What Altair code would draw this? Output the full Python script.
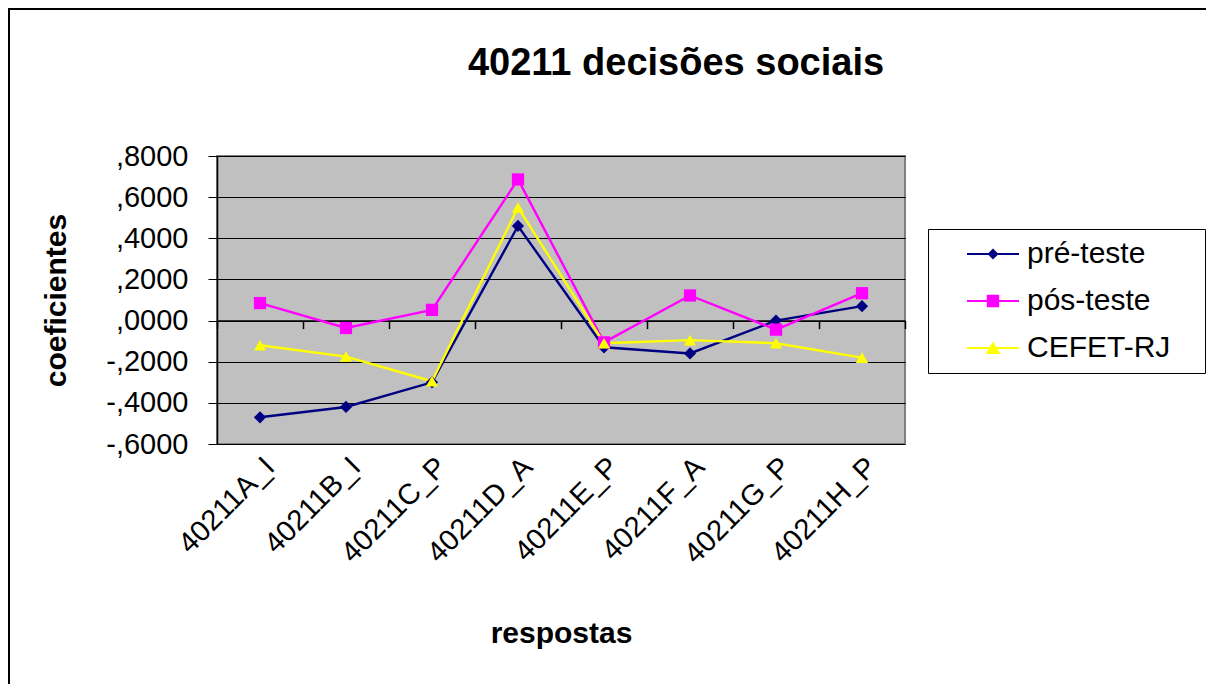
import altair as alt
import pandas as pd

categories = ["40211A_I", "40211B_I", "40211C_P", "40211D_A",
              "40211E_P", "40211F_A", "40211G_P", "40211H_P"]
series_names = ["pré-teste", "pós-teste", "CEFET-RJ"]
pre_teste = [-0.47, -0.42, -0.30, 0.46, -0.13, -0.16, 0.00, 0.07]
pos_teste = [0.085, -0.036, 0.052, 0.686, -0.106, 0.122, -0.044, 0.133]
cefet_rj = [-0.12, -0.175, -0.295, 0.55, -0.11, -0.095, -0.11, -0.18]
y_ticks = [-0.6, -0.4, -0.2, 0.0, 0.2, 0.4, 0.6, 0.8]

colors = ["#000080", "#FF00FF", "#FFFF00"]
shapes = ["diamond", "square", "triangle-up"]
legend_shapes = [
    "M-2.6,-0.1H2.6V0.1H-2.6Z M0,-0.55L0.55,0L0,0.55L-0.55,0Z",
    "M-2.6,-0.1H2.6V0.1H-2.6Z M-0.62,-0.62H0.62V0.62H-0.62Z",
    "M-2.6,-0.1H2.6V0.1H-2.6Z M0,-0.65L0.75,0.6L-0.75,0.6Z",
]

FONT = "Liberation Sans"

rows = []
for name, vals in zip(series_names, [pre_teste, pos_teste, cefet_rj]):
    for c, v in zip(categories, vals):
        rows.append({"resposta": c, "serie": name, "valor": v})
df = pd.DataFrame(rows)

W, H = 688, 288
zero_offset = -H * (0 - y_ticks[0]) / (y_ticks[-1] - y_ticks[0])

x_scale = alt.Scale(type="band", domain=categories, paddingInner=0, paddingOuter=0)
y_scale = alt.Scale(domain=[y_ticks[0], y_ticks[-1]], nice=False, zero=False)
color_scale = alt.Scale(domain=series_names, range=colors)

label_expr = "(datum.value < -1e-9 ? '-' : '') + ',' + substring(format(abs(datum.value), '.4f'), 2)"

y_axis = alt.Axis(title="coeficientes", values=y_ticks, labelExpr=label_expr,
                  labelFontSize=29, labelFont=FONT, labelColor="black",
                  domainColor="black", domainWidth=1.5, tickColor="black",
                  tickSize=9, tickWidth=1, labelPadding=20,
                  grid=True, gridColor="black", gridWidth=1, gridOpacity=1,
                  titleFontSize=30, titleFont=FONT, titleFontWeight="bold",
                  titleColor="black", titlePadding=34)
Y = alt.Y("valor:Q", scale=y_scale, axis=y_axis)

legend_spec = dict(title="\u00a0", titleOrient="right", titlePadding=25,
                   titleFontSize=29, orient="none", legendX=711, legendY=73,
                   fillColor="white", strokeColor="black",
                   padding=10, symbolSize=400, symbolStrokeWidth=0,
                   symbolOpacity=1, labelFontSize=30, labelFont=FONT,
                   labelColor="black", labelOffset=19, rowPadding=17,
                   symbolOffset=40)

base = alt.Chart(df)

lines = base.mark_line(strokeWidth=2.4).encode(
    x=alt.X("resposta:N", scale=x_scale, sort=categories,
            axis=alt.Axis(title="respostas", orient="bottom", labelAngle=-45,
                          labelFontSize=29, labelFont=FONT, labelColor="black",
                          ticks=False, domain=False, labelPadding=8,
                          titleFontSize=30, titleFont=FONT, titleFontWeight="bold",
                          titleColor="black", titlePadding=49)),
    y=Y,
    color=alt.Color("serie:N", scale=color_scale, legend=None),
    detail="serie:N",
    order=alt.Order("resposta:N"),
)

points = base.mark_point(filled=True, opacity=1, size=150).encode(
    x=alt.X("resposta:N", scale=x_scale, sort=categories, axis=None),
    y=Y,
    color=alt.Color("serie:N", scale=color_scale, legend=None),
    shape=alt.Shape("serie:N", scale=alt.Scale(domain=series_names, range=shapes),
                    legend=None),
)

legend_layer = base.mark_point(filled=True, size=1).encode(
    x=alt.X("resposta:N", scale=x_scale, sort=categories, axis=None),
    y=Y,
    color=alt.Color("serie:N", scale=color_scale, legend=alt.Legend(**legend_spec)),
    shape=alt.Shape("serie:N", scale=alt.Scale(domain=series_names, range=legend_shapes),
                    legend=alt.Legend(**legend_spec)),
)

zero_axis = base.mark_point(opacity=0).encode(
    x=alt.X("resposta:N", scale=x_scale, sort=categories,
            axis=alt.Axis(title=None, orient="bottom", labels=False, domain=True,
                          domainColor="black", domainWidth=1.5, ticks=True,
                          tickBand="extent", tickColor="black", tickSize=8,
                          tickWidth=1.5, offset=zero_offset, grid=False)),
    y=Y,
)

frame = alt.Chart(pd.DataFrame({"f": [0]})).mark_rect(
    fill="transparent", stroke="black", strokeWidth=2, clip=False
).encode(
    x=alt.value(-208), x2=alt.value(1200), y=alt.value(-147), y2=alt.value(700)
)

chart = alt.layer(frame, legend_layer, zero_axis, lines, points).resolve_scale(
    color="independent", shape="independent"
).resolve_axis(x="independent").properties(
    width=W, height=H,
    title=alt.TitleParams("40211 decisões sociais", fontSize=38, fontWeight="bold",
                          font=FONT, color="black", anchor="middle", frame="group",
                          baseline="alphabetic", dx=115, offset=0, dy=105),
    autosize=alt.AutoSizeParams(type="none"),
    padding={"left": 209, "top": 148, "right": 301, "bottom": 240},
    background="white",
).configure_view(
    fill="#C0C0C0", stroke="#808080", strokeWidth=2
)

chart.save("out.html", embed_options={"renderer": "svg", "actions": False})
